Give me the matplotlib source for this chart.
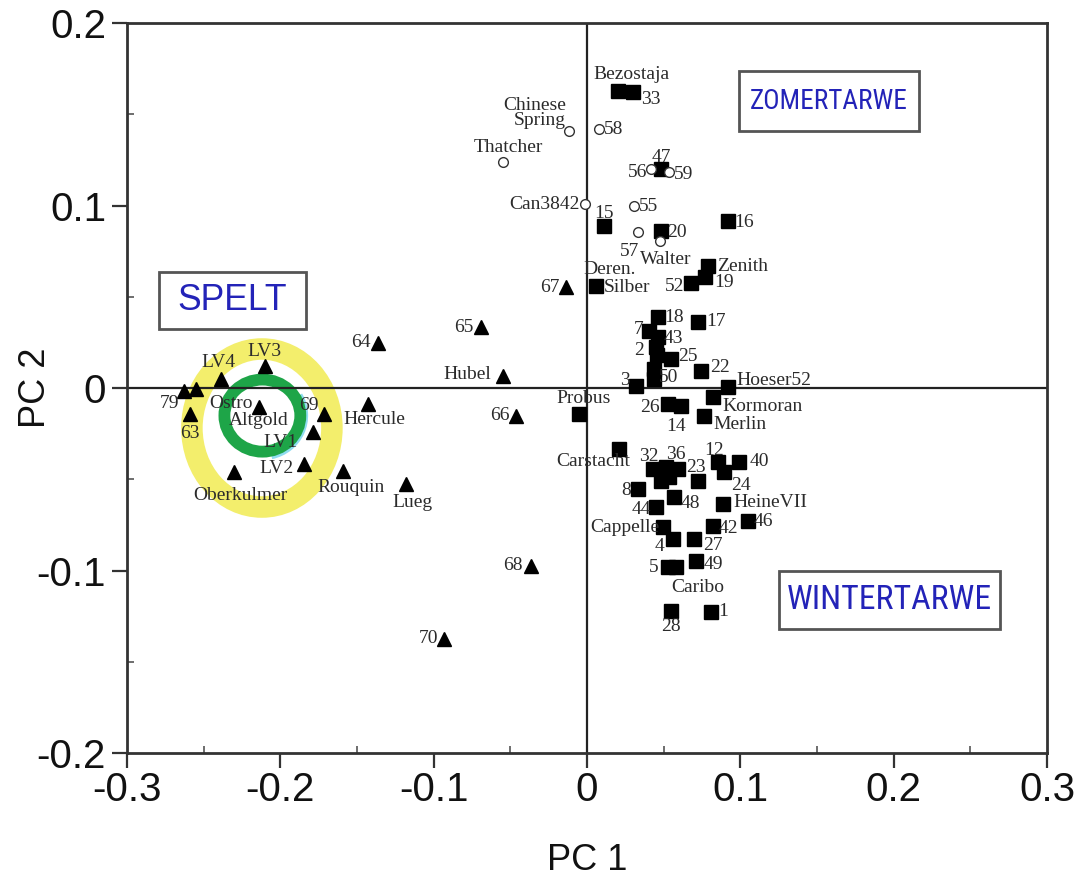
import matplotlib
matplotlib.use("Agg")
import matplotlib.pyplot as plt
from matplotlib.patches import Ellipse, Arc, Rectangle
from matplotlib import font_manager
from matplotlib.font_manager import FontProperties

# ---------------- data ----------------
sq_names = ["Bezostaja", "33", "47", "15", "20", "16", "Zenith", "19", "52", "Silber",
            "18", "17", "7", "43", "2", "", "25", "22", "", "50", "3", "Hoeser52",
            "Kormoran", "Merlin", "26", "14", "Probus", "Carstacht", "32", "36", "", "", "",
            "23", "12", "24", "40", "8", "48", "44", "HeineVII", "46", "42", "Cappelle",
            "4", "27", "49", "5", "Caribo", "28", "1"]
sq_x = [0.0202, 0.0300, 0.0483, 0.0111, 0.0483, 0.0920, 0.0789, 0.0770, 0.0678, 0.0059,
        0.0463, 0.0724, 0.0404, 0.0463, 0.0450, 0.0457, 0.0548, 0.0744, 0.0437, 0.0437,
        0.0320, 0.0920, 0.0822, 0.0763, 0.0528, 0.0613, -0.0052, 0.0209, 0.0431, 0.0594,
        0.0515, 0.0483, 0.0535, 0.0724, 0.0855, 0.0894, 0.0992, 0.0333, 0.0568, 0.0450,
        0.0887, 0.1050, 0.0822, 0.0496, 0.0561, 0.0698, 0.0711, 0.0528, 0.0581, 0.0548,
        0.0809]
sq_y = [0.1627, 0.1622, 0.1200, 0.0888, 0.0860, 0.0915, 0.0668, 0.0608, 0.0575, 0.0559,
        0.0389, 0.0362, 0.0312, 0.0279, 0.0225, 0.0181, 0.0159, 0.0093, 0.0104, 0.0049,
        0.0011, 0.0005, -0.0049, -0.0153, -0.0088, -0.0099, -0.0142, -0.0334, -0.0444, -0.0444,
        -0.0433, -0.0510, -0.0488, -0.0510, -0.0405, -0.0460, -0.0405, -0.0553, -0.0597, -0.0652,
        -0.0636, -0.0729, -0.0756, -0.0762, -0.0827, -0.0827, -0.0948, -0.0981, -0.0981, -0.1222,
        -0.1227]

ci_names = ["Chinese\nSpring", "58", "Thatcher", "56", "59", "Can3842", "55", "57", "Walter"]
ci_x = [-0.0117, 0.0078, -0.0548, 0.0417, 0.0535, -0.0013, 0.0307, 0.0333, 0.0476]
ci_y = [0.1408, 0.1419, 0.1238, 0.1200, 0.1184, 0.1008, 0.0997, 0.0855, 0.0805]

tr_names = ["67", "64", "LV3", "LV4", "79", "Ostro", "63", "Altgold", "69", "Hercule",
            "LV1", "LV2", "Oberkulmer", "Rouquin", "Lueg", "65", "Hubel", "66", "68", "70"]
tr_x = [-0.0137, -0.1363, -0.2100, -0.2387, -0.2629, -0.2551, -0.2590, -0.2140, -0.1716, -0.1429,
        -0.1787, -0.1846, -0.2303, -0.1592, -0.1181, -0.0691, -0.0548, -0.0463, -0.0365, -0.0933]
tr_y = [0.0553, 0.0247, 0.0121, 0.0049, -0.0016, -0.0005, -0.0142, -0.0104, -0.0142, -0.0088,
        -0.0241, -0.0416, -0.0460, -0.0455, -0.0526, 0.0334, 0.0066, -0.0153, -0.0975, -0.1375]

x_ticks = [-0.3, -0.2, -0.1, 0, 0.1, 0.2, 0.3]
x_ticklabels = ["-0.3", "-0.2", "-0.1", "0", "0.1", "0.2", "0.3"]
y_ticks = [-0.2, -0.1, 0, 0.1, 0.2]
y_ticklabels = ["-0.2", "-0.1", "0", "0.1", "0.2"]

groups = ["ZOMERTARWE", "SPELT", "WINTERTARWE"]

# ---------------- layout (not data) ----------------
# group boxes: (x0, x1, y0, y1) in data units, target text width in pixels
group_boxes = [(0.0992, 0.2166, 0.1408, 0.1737),
               (-0.2792, -0.1833, 0.0323, 0.0636),
               (0.1252, 0.2694, -0.1321, -0.1003)]
group_textw = [158, 110, 205]
group_narrow = [True, False, True]

label_place = {
    "Bezostaja": (13, 17, "center"), "33": (8, -7, "left"), "47": (0, 12, "center"),
    "15": (0, 13, "center"), "20": (6, -1, "left"), "16": (6, -1, "left"),
    "Zenith": (9, 0, "left"), "19": (9, -5, "left"), "52": (-7, -3, "right"),
    "Silber": (8, -1, "left"), "18": (6, 0, "left"), "17": (8, 0, "left"),
    "7": (-5, 2, "right"), "43": (6, -1, "left"), "2": (-12, -4, "right"),
    "25": (7, 3, "left"), "22": (9, 4, "left"), "50": (5, 2, "left"), "3": (-6, 6, "right"),
    "Hoeser52": (8, 7, "left"), "Kormoran": (9, -10, "left"), "Merlin": (9, -9, "left"),
    "26": (-8, -3, "right"), "14": (-5, -20, "center"), "Probus": (5, 15, "center"),
    "Carstacht": (-26, -13, "center"), "32": (-4, 13, "center"), "36": (-2, 15, "center"),
    "23": (-2, 14, "center"), "12": (-4, 11, "center"), "40": (10, 0, "left"),
    "24": (17, -14, "center"), "8": (-7, -2, "right"), "48": (7, -7, "left"),
    "44": (-5, -2, "right"), "HeineVII": (10, 2, "left"), "46": (6, 0, "left"),
    "42": (6, -3, "left"), "Cappelle": (-4, 0, "right"), "4": (-9, -8, "right"),
    "27": (9, -7, "left"), "49": (8, -3, "left"), "5": (-9, 0, "right"),
    "Caribo": (22, -20, "center"), "28": (0, -15, "center"), "1": (7, 0, "left"),
    "Chinese\nSpring": (-3, 18, "right"), "58": (5, 0, "left"), "Thatcher": (5, 15, "center"),
    "56": (-4, -3, "right"), "59": (5, -2, "left"), "Can3842": (-5, 0, "right"),
    "55": (5, 0, "left"), "57": (-9, -19, "center"), "Walter": (6, -18, "center"),
    "67": (-6, 0, "right"), "64": (-7, 0, "right"), "LV3": (-1, 14, "center"),
    "LV4": (-3, 17, "center"), "79": (-5, -13, "right"), "Ostro": (35, -15, "center"),
    "63": (0, -20, "center"), "Altgold": (0, -13, "center"), "69": (-15, 8, "center"),
    "Hercule": (6, -15, "center"), "LV1": (-15, -10, "right"), "LV2": (-10, -5, "right"),
    "Oberkulmer": (7, -24, "center"), "Rouquin": (8, -16, "center"), "Lueg": (7, -18, "center"),
    "65": (-8, 0, "right"), "Hubel": (-12, 2, "right"), "66": (-6, 0, "right"),
    "68": (-8, 0, "right"), "70": (-6, 0, "right"),
}
extra_labels = {"Silber": ("Deren.", 14, 17, "center")}

# ---------------- fonts ----------------
plt.rcParams["axes.unicode_minus"] = False
sans = "Liberation Sans"
serif = "Liberation Serif"


def find_narrow_font():
    prefs = ["Liberation Sans Narrow", "Arial Narrow", "Roboto Condensed",
             "Open Sans Condensed", "Noto Sans Condensed", "Noto Sans", "DejaVu Sans",
             "Open Sans", "Roboto"]
    cands = []
    for f in font_manager.fontManager.ttflist:
        nm = f.name
        fn = f.fname.lower()
        narrowish = ("condensed" in fn or "narrow" in fn or
                     str(f.stretch) in ("condensed", "semi-condensed", "extra-condensed",
                                        "ultra-condensed") or
                     "Narrow" in nm or "Condensed" in nm)
        if not narrowish:
            continue
        if "mono" in fn or "serif" in fn and "sans" not in fn:
            continue
        if "bold" in fn or "italic" in fn or "light" in fn or "thin" in fn \
                or "black" in fn or "medium" in fn or "semi" in fn and "semicondensed" not in fn:
            continue
        if f.style != "normal":
            continue
        rank = len(prefs)
        for i, p in enumerate(prefs):
            if nm.startswith(p):
                rank = i
                break
        extra = 0 if ("semi" not in fn and "extra" not in fn and "ultra" not in fn) else 1
        cands.append((rank, extra, f.fname))
    if not cands:
        return None
    cands.sort()
    return cands[0][2]


narrow_file = find_narrow_font()
if narrow_file:
    narrow_fp = FontProperties(fname=narrow_file)
else:
    narrow_fp = FontProperties(family=sans)
sans_fp = FontProperties(family=sans)

lab_color = "#2b2b2b"
lab_size = 14

fig = plt.figure(figsize=(10.75, 8.89), dpi=100)
ax = fig.add_axes([0.1181, 0.153, 0.8559, 0.821])
ax.set_xlim(-0.3, 0.3)
ax.set_ylim(-0.2, 0.2)

# highlight rings around the spelt landraces
ax.add_patch(Ellipse((-0.212, -0.0219), 0.0913, 0.0866, fill=False,
                     edgecolor="#f3ee6c", linewidth=15.5, zorder=0.5))
ax.add_patch(Ellipse((-0.2117, -0.0151), 0.0495, 0.0395, fill=False,
                     edgecolor="#1ea548", linewidth=8.5, zorder=0.7))
ax.add_patch(Arc((-0.2117, -0.0151), 0.0565, 0.0462, theta1=-75, theta2=25,
                 edgecolor="#8fdcf0", linewidth=3.5, zorder=0.6))

ax.axhline(0, color="#222222", lw=1.6, zorder=1)
ax.axvline(0, color="#222222", lw=1.6, zorder=1)

ax.plot(sq_x, sq_y, linestyle="none", marker="s", markersize=9.5,
        color="black", zorder=3)
ax.plot(ci_x, ci_y, linestyle="none", marker="o", markersize=7,
        markerfacecolor="white", markeredgecolor="#333333", markeredgewidth=1.0, zorder=3)
ax.plot(tr_x, tr_y, linestyle="none", marker="^", markersize=9.5,
        color="black", zorder=3)


def put_labels(names, xs, ys):
    for n, x, y in zip(names, xs, ys):
        if not n:
            continue
        dx, dy, ha = label_place[n]
        ax.annotate(n, (x, y), xytext=(dx, dy), textcoords="offset pixels",
                    ha=ha, va="center", fontsize=lab_size, family=serif,
                    color=lab_color, zorder=4, linespacing=0.85)
        if n in extra_labels:
            t, ex, ey, eha = extra_labels[n]
            ax.annotate(t, (x, y), xytext=(ex, ey), textcoords="offset pixels",
                        ha=eha, va="center", fontsize=lab_size, family=serif,
                        color=lab_color, zorder=4)


put_labels(sq_names, sq_x, sq_y)
put_labels(ci_names, ci_x, ci_y)
put_labels(tr_names, tr_x, tr_y)

# group boxes with text fitted to the box width
renderer = fig.canvas.get_renderer()
for g, (x0, x1, y0, y1), tw, isn in zip(groups, group_boxes, group_textw, group_narrow):
    ax.add_patch(Rectangle((x0, y0), x1 - x0, y1 - y0, facecolor="white",
                           edgecolor="#555555", linewidth=2, zorder=5))
    fp = (narrow_fp if isn else sans_fp).copy()
    fp.set_size(24)
    t = ax.text((x0 + x1) / 2, (y0 + y1) / 2, g, ha="center", va="center",
                fontproperties=fp, color="#2323b8", zorder=6)
    w = t.get_window_extent(renderer).width
    fs = min(27, 24 * tw / w)
    fp.set_size(fs)
    t.set_fontproperties(fp)

# axes styling
for s in ax.spines.values():
    s.set_linewidth(2)
    s.set_color("#333333")
ax.set_xticks(x_ticks)
ax.set_xticklabels(x_ticklabels)
ax.set_yticks(y_ticks)
ax.set_yticklabels(y_ticklabels)
ax.set_xticks([-0.25, -0.15, -0.05, 0.05, 0.15, 0.25], minor=True)
ax.set_yticks([-0.15, -0.05, 0.05, 0.15], minor=True)
ax.tick_params(which="major", direction="out", length=11, width=1.6,
               color="#333333", labelsize=29)
ax.tick_params(axis="x", which="major", pad=2)
ax.tick_params(axis="y", which="major", pad=4)
ax.tick_params(which="minor", direction="in", length=5, width=1.2, color="#555555")
for t in ax.get_xticklabels() + ax.get_yticklabels():
    t.set_family(sans)
    t.set_color("#111111")

ax.set_xlabel("PC 1", fontsize=26, family=sans, color="#111111")
ax.set_ylabel("PC 2", fontsize=26, family=sans, color="#111111")
ax.xaxis.set_label_coords(0.5, -0.124)
ax.yaxis.set_label_coords(-0.08, 0.5)

fig.savefig("out.png", dpi=100)
